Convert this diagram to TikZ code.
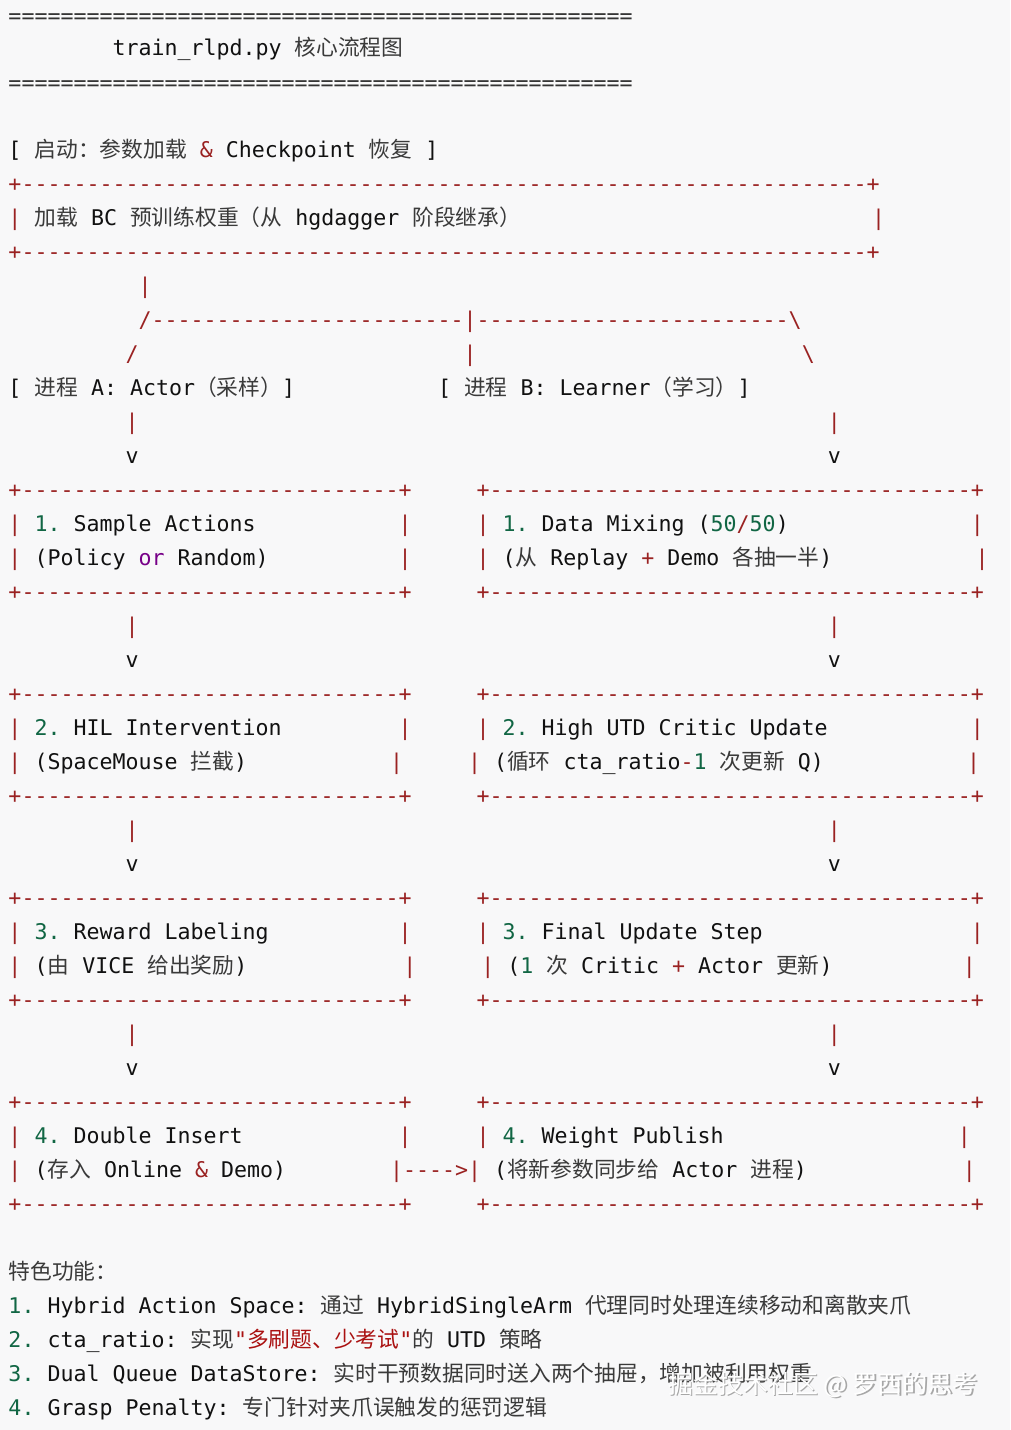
\documentclass[tikz,border=0pt]{standalone}
\usepackage{fontspec}
\setmonofont{DejaVu Sans Mono}
\newfontfamily\cjk{Noto Sans CJK SC}[Scale=1.007]
\newfontfamily\wmfont{Noto Sans CJK SC}
\definecolor{bgc}{RGB}{248,248,249}
\definecolor{bxc}{HTML}{9A2222}
\definecolor{eqc}{HTML}{333333}
\definecolor{txtc}{HTML}{111111}
\definecolor{cjc}{HTML}{3A3A3A}
\definecolor{numc}{HTML}{116644}
\definecolor{kwc}{HTML}{770088}
\definecolor{strcol}{HTML}{AA1111}
\ExplSyntaxOn
\cs_new:Npn \myrep #1#2 { \prg_replicate:nn {#1} {#2} }
\ExplSyntaxOff
\newlength\pw
\newcommand\sk[1]{\hspace*{#1\pw}}
\newcommand\bx[1]{{\color{bxc}#1}}
\newcommand\nm[1]{{\color{numc}#1}}
\newcommand\cj[1]{{\cjk\color{cjc}#1}}
\newcommand\kw[1]{{\color{kwc}#1}}
\newcommand\strc[1]{{\color{strcol}#1}}
\begin{document}
\settowidth{\pw}{\ttfamily\fontsize{21.6}{34}\selectfont M}
\begin{tikzpicture}[x=1pt,y=1pt,
  every node/.style={inner sep=0pt, outer sep=0pt, anchor=base west,
    font=\ttfamily\fontsize{21.6}{34}\selectfont, text=txtc},
  wm/.style={font=\wmfont\fontsize{25}{30}\selectfont}]
\fill[bgc] (0,0) rectangle (1010,-1430);
\useasboundingbox (0,0) rectangle (1010,-1430);
% header
\node (l1) at (8.5,-23) {\color{eqc}\myrep{48}{=}};
\node (l2) at (8.5,-55) {\sk{8}train\_rlpd.py \cj{核心流程图}};
\node (l3) at (8.5,-90) {\color{eqc}\myrep{48}{=}};
% start block
\node (l5) at (8.5,-157) {[ \cj{启动：参数加载} \bx{\&} Checkpoint \cj{恢复} ]};
\node (l6) at (8.5,-191) {\bx{+\myrep{65}{-}+}};
\node (l7) at (8.5,-225) {\bx{|} \cj{加载} BC \cj{预训练权重（从} hgdagger \cj{阶段继承）}\sk{27}\bx{|}};
\node (l8) at (8.5,-259) {\bx{+\myrep{65}{-}+}};
% fork
\node (l9) at (8.5,-293) {\sk{10}\bx{|}};
\node (l10) at (8.5,-327) {\sk{10}\bx{/\myrep{24}{-}|\myrep{24}{-}\textbackslash}};
\node (l11) at (8.5,-361) {\sk{9}\bx{/}\sk{25}\bx{|}\sk{25}\bx{\textbackslash}};
\node (l12) at (8.5,-395) {[ \cj{进程} A: Actor\cj{（采样）}]\sk{11}[ \cj{进程} B: Learner\cj{（学习）}]};
\node (l13) at (8.5,-429) {\sk{9}\bx{|}\sk{53}\bx{|}};
\node (l14) at (8.5,-463) {\sk{9}v\sk{53}v};
% row 1
\node (l15) at (8.5,-497) {\bx{+\myrep{29}{-}+}\sk{5}\bx{+\myrep{37}{-}+}};
\node (l16) at (8.5,-531) {\bx{|} \nm{1.} Sample Actions\sk{11}\bx{|}\sk{5}\bx{|} \nm{1.} Data Mixing (\nm{50}\bx{/}\nm{50})\sk{14}\bx{|}};
\node (l17) at (8.5,-565) {\bx{|} (Policy \kw{or} Random)\sk{10}\bx{|}\sk{5}\bx{|} (\cj{从} Replay \bx{+} Demo \cj{各抽一半})\sk{11}\bx{|}};
\node (l18) at (8.5,-599) {\bx{+\myrep{29}{-}+}\sk{5}\bx{+\myrep{37}{-}+}};
\node (l19) at (8.5,-633) {\sk{9}\bx{|}\sk{53}\bx{|}};
\node (l20) at (8.5,-667) {\sk{9}v\sk{53}v};
% row 2
\node (l21) at (8.5,-701) {\bx{+\myrep{29}{-}+}\sk{5}\bx{+\myrep{37}{-}+}};
\node (l22) at (8.5,-735) {\bx{|} \nm{2.} HIL Intervention\sk{9}\bx{|}\sk{5}\bx{|} \nm{2.} High UTD Critic Update\sk{11}\bx{|}};
\node (l23) at (8.5,-769) {\bx{|} (SpaceMouse \cj{拦截})\sk{11}\bx{|}\sk{5}\bx{|} (\cj{循环} cta\_ratio\bx{-}\nm{1} \cj{次更新} Q)\sk{11}\bx{|}};
\node (l24) at (8.5,-803) {\bx{+\myrep{29}{-}+}\sk{5}\bx{+\myrep{37}{-}+}};
\node (l25) at (8.5,-837) {\sk{9}\bx{|}\sk{53}\bx{|}};
\node (l26) at (8.5,-871) {\sk{9}v\sk{53}v};
% row 3
\node (l27) at (8.5,-905) {\bx{+\myrep{29}{-}+}\sk{5}\bx{+\myrep{37}{-}+}};
\node (l28) at (8.5,-939) {\bx{|} \nm{3.} Reward Labeling\sk{10}\bx{|}\sk{5}\bx{|} \nm{3.} Final Update Step\sk{16}\bx{|}};
\node (l29) at (8.5,-973) {\bx{|} (\cj{由} VICE \cj{给出奖励})\sk{12}\bx{|}\sk{5}\bx{|} (\nm{1} \cj{次} Critic \bx{+} Actor \cj{更新})\sk{10}\bx{|}};
\node (l30) at (8.5,-1007) {\bx{+\myrep{29}{-}+}\sk{5}\bx{+\myrep{37}{-}+}};
\node (l31) at (8.5,-1041) {\sk{9}\bx{|}\sk{53}\bx{|}};
\node (l32) at (8.5,-1075) {\sk{9}v\sk{53}v};
% row 4
\node (l33) at (8.5,-1109) {\bx{+\myrep{29}{-}+}\sk{5}\bx{+\myrep{37}{-}+}};
\node (l34) at (8.5,-1143) {\bx{|} \nm{4.} Double Insert\sk{12}\bx{|}\sk{5}\bx{|} \nm{4.} Weight Publish\sk{18}\bx{|}};
\node (l35) at (8.5,-1177) {\bx{|} (\cj{存入} Online \bx{\&} Demo)\sk{8}\bx{|---->|} (\cj{将新参数同步给} Actor \cj{进程})\sk{12}\bx{|}};
\node (l36) at (8.5,-1211) {\bx{+\myrep{29}{-}+}\sk{5}\bx{+\myrep{37}{-}+}};
% features
\node (l38) at (8.5,-1279) {\cj{特色功能：}};
\node (l39) at (8.5,-1313) {\nm{1.} Hybrid Action Space: \cj{通过} HybridSingleArm \cj{代理同时处理连续移动和离散夹爪}};
\node (l40) at (8.5,-1347) {\nm{2.} cta\_ratio: \cj{实现}\strc{"{\cjk 多刷题、少考试}"}\cj{的} UTD \cj{策略}};
\node (l41) at (8.5,-1381) {\nm{3.} Dual Queue DataStore: \cj{实时干预数据同时送入两个抽屉，增加被利用权重}};
\node (l42) at (8.5,-1415) {\nm{4.} Grasp Penalty: \cj{专门针对夹爪误触发的惩罚逻辑}};
% watermark
\node[wm, text=gray!75, opacity=0.9] (wms) at (669.5,-1394.5) {掘金技术社区 @ 罗西的思考};
\node[wm, text=white] (wm) at (668,-1393) {掘金技术社区 @ 罗西的思考};
\end{tikzpicture}
\end{document}
